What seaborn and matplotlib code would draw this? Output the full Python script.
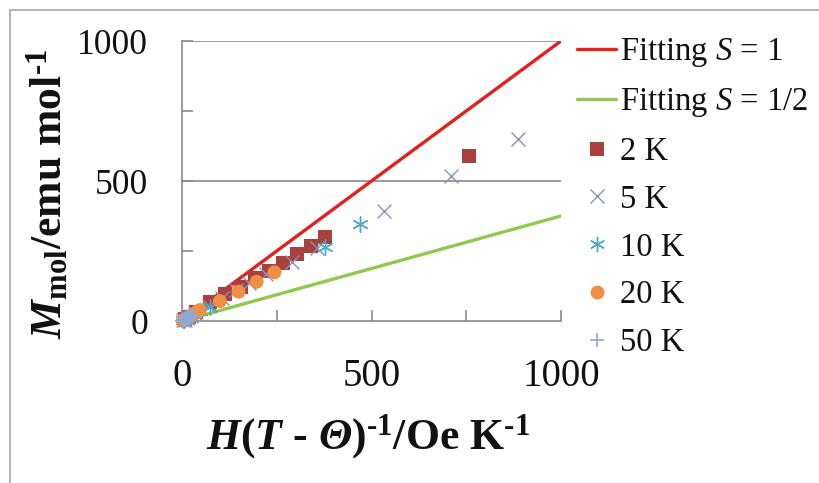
import matplotlib
matplotlib.use("Agg")
import matplotlib.pyplot as plt
import seaborn as sns
import pandas as pd
from matplotlib.patches import Rectangle
from matplotlib.lines import Line2D
from matplotlib.ticker import MultipleLocator, FuncFormatter

# ---- data -------------------------------------------------------------
fit_x = [0, 1000]
fit_s1_y = [0, 1000]
fit_s_half_y = [0, 375]
fit_labels = ["Fitting $\\mathit{S}$ = 1", "Fitting $\\mathit{S}$ = 1/2"]

k2_x = [8, 19, 38, 74, 113, 155, 193, 230, 266, 303, 340, 377, 758]
k2_y = [6, 15, 31, 67, 95, 123, 152, 180, 208, 239, 268, 299, 589]

k5_x = [3, 7, 12, 17, 25, 35, 70, 106, 142, 178, 222, 289, 356, 534, 710, 887]
k5_y = [2, 5, 9, 13, 19, 27, 55, 82, 109, 136, 168, 210, 262, 394, 518, 649]

k10_x = [2, 5, 9, 12, 18, 24, 35, 47, 74, 377, 470]
k10_y = [2, 4, 7, 10, 14, 19, 28, 37, 51, 265, 346]

k20_x = [2, 4, 7, 10, 14, 20, 25, 30, 38, 47, 100, 149, 197, 244]
k20_y = [1, 3, 5, 8, 11, 16, 20, 24, 31, 39, 71, 105, 140, 174]

k50_x = [1, 2, 3, 4, 5, 7, 9, 11, 13, 15, 18, 21, 24, 27, 30]
k50_y = [1, 1, 2, 3, 4, 5, 7, 9, 10, 12, 14, 16, 19, 21, 23]

series_names = ["2 K", "5 K", "10 K", "20 K", "50 K"]
series_x = [k2_x, k5_x, k10_x, k20_x, k50_x]
series_y = [k2_y, k5_y, k10_y, k20_y, k50_y]

# ---- style ------------------------------------------------------------
sns.set_theme(style="white")
plt.rcParams["font.family"] = ["Liberation Serif", "DejaVu Serif"]
plt.rcParams["mathtext.fontset"] = "custom"
plt.rcParams["mathtext.rm"] = "Liberation Serif"
plt.rcParams["mathtext.it"] = "Liberation Serif:italic"
plt.rcParams["mathtext.bf"] = "Liberation Serif:bold"
plt.rcParams["mathtext.bfit"] = "Liberation Serif:italic:bold"

GRAY = "#8a8a8a"
INK = "#111111"
RED = "#e3201c"
GREEN = "#92c850"

fig = plt.figure(figsize=(8.2, 4.83), dpi=100)
ax = fig.add_axes([182 / 820, 1 - 321 / 483, (561 - 182) / 820, (321 - 41) / 483])

# fitting lines
fit_df = pd.DataFrame({
    "x": fit_x + fit_x,
    "y": fit_s1_y + fit_s_half_y,
    "fit": [fit_labels[0]] * 2 + [fit_labels[1]] * 2,
})
sns.lineplot(data=fit_df, x="x", y="y", hue="fit", palette=[RED, GREEN],
             linewidth=2.4, ax=ax, legend=False, zorder=2)

# measured points
styles = {
    "2 K": dict(marker="s", color="#a8403e", size=10, lw=0),
    "5 K": dict(marker="x", color="#8d8fb5", size=10, lw=1.0),
    "10 K": dict(marker=(6, 2, 0), color="#4ba9c6", size=11, lw=1.0),
    "20 K": dict(marker="o", color="#ee8f44", size=10, lw=0),
    "50 K": dict(marker="+", color="#8ea8d6", size=9.5, lw=1.2),
}
frames = [pd.DataFrame({"x": xs, "y": ys, "T": name})
          for name, xs, ys in zip(series_names, series_x, series_y)]
pts = pd.concat(frames, ignore_index=True)

for name in series_names:
    st = styles[name]
    sub = pts[pts["T"] == name]
    kw = dict(marker=st["marker"], color=st["color"], s=st["size"] ** 2,
              linewidth=st["lw"])
    if st["lw"] == 0:
        kw["edgecolor"] = "none"
    sns.scatterplot(data=sub, x="x", y="y", ax=ax, clip_on=False,
                    zorder=3, legend=False, **kw)

# ---- axes -------------------------------------------------------------
ax.set_xlim(0, 1000)
ax.set_ylim(0, 1000)
for side in ["top", "right"]:
    ax.spines[side].set_visible(False)
for side in ["left", "bottom"]:
    ax.spines[side].set_color(GRAY)
    ax.spines[side].set_linewidth(1.2)
for yv in [500, 1000]:
    ax.axhline(yv, color=GRAY, linewidth=1.2, zorder=1)

ax.xaxis.set_major_locator(MultipleLocator(250))
ax.yaxis.set_major_locator(MultipleLocator(250))
only_500 = FuncFormatter(lambda v, p: f"{int(v)}" if int(v) % 500 == 0 else "")
ax.xaxis.set_major_formatter(only_500)
ax.yaxis.set_major_formatter(only_500)
ax.tick_params(axis="x", direction="in", length=8, width=1.2, color=GRAY,
               labelsize=28, pad=27, bottom=True, labelcolor=INK)
ax.tick_params(axis="y", direction="in", length=8, width=1.2, color=GRAY,
               labelsize=25.5, pad=24.5, left=True, labelcolor=INK)
for t in ax.yaxis.get_major_ticks():
    if int(round(t.get_loc())) % 500 == 0:
        t.tick1line.set_visible(False)

HY = "\u2010"
ax.set_xlabel(r"$\mathbfit{H}$($\mathbfit{T}$ - $\mathbfit{\Theta}$)$^{\mathbf{" + HY
              + r"1}}$/Oe K$^{\mathbf{" + HY + r"1}}$",
              fontsize=31.5, fontweight="bold", color=INK)
ax.set_ylabel(r"$\mathbfit{M}_{\mathbf{mol}}$/emu mol$^{\mathbf{" + HY + r"1}}$",
              fontsize=31.5, fontweight="bold", color=INK)
ax.xaxis.set_label_coords(0.49, -0.325)
ax.yaxis.set_label_coords(-0.296, 0.454)

# ---- legend -----------------------------------------------------------
handles = [Line2D([], [], color=RED, linewidth=2.4),
           Line2D([], [], color=GREEN, linewidth=2.4)]
for name in series_names:
    st = styles[name]
    handles.append(Line2D([], [], marker=st["marker"], color=st["color"],
                          markersize=st["size"], linestyle="none",
                          markeredgewidth=st["lw"]))
labels = fit_labels + series_names
fig.legend(handles, labels, loc="upper left",
           bbox_to_anchor=(577 / 820, 1 - 36 / 483),
           frameon=False, fontsize=23.5, handlelength=1.2, handletextpad=0.12,
           labelspacing=0.53, borderaxespad=0, borderpad=0, labelcolor=INK)

# outer frame
fig.add_artist(Rectangle((10 / 820, -0.1), 1.2, 1 - 10 / 483 + 0.1,
                         transform=fig.transFigure, fill=False,
                         edgecolor="#a8a8a8", linewidth=1.2))

fig.savefig("out.png", dpi=100)
